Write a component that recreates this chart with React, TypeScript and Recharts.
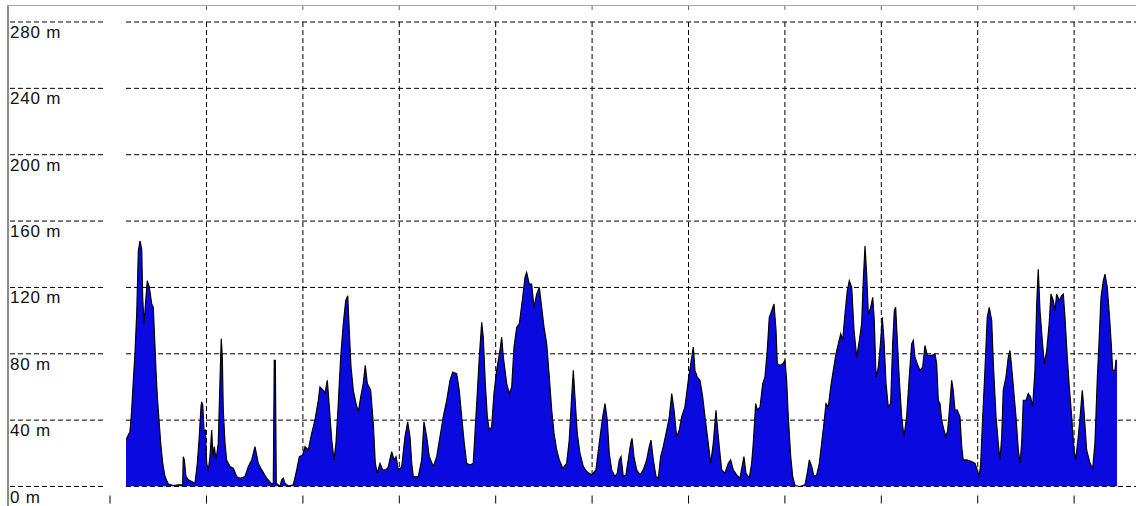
import React from 'react';
import { ComposedChart, Area, XAxis, YAxis, CartesianGrid } from 'recharts';

// distance (km) / elevation (m) pairs
const section1: [number, number][] = [
  [0.165, 28], [0.196, 32], [0.206, 33], [0.224, 46], [0.241, 64], [0.258, 80], [0.276, 104], [0.293, 142],
  [0.31, 148], [0.328, 143], [0.338, 114], [0.352, 98], [0.372, 114], [0.386, 124], [0.407, 120], [0.432, 110],
  [0.448, 108], [0.463, 88], [0.476, 70], [0.49, 54], [0.51, 38], [0.525, 26], [0.546, 14], [0.569, 6],
  [0.604, 1.5], [0.656, 0.5], [0.707, 1], [0.753, 1], [0.759, 18], [0.77, 16], [0.787, 6], [0.811, 4],
  [0.846, 3], [0.881, 2], [0.905, 14], [0.925, 30], [0.943, 48], [0.95, 51], [0.961, 49], [0.974, 34],
  [0.988, 34], [1.002, 14], [1.019, 10], [1.036, 18], [1.054, 34], [1.067, 18], [1.081, 24], [1.099, 16],
  [1.122, 26], [1.14, 64], [1.153, 89], [1.164, 78], [1.174, 46], [1.192, 26], [1.209, 16], [1.244, 12],
  [1.278, 11], [1.313, 6], [1.347, 5], [1.399, 6], [1.434, 12], [1.469, 16], [1.503, 24], [1.537, 14],
  [1.573, 10], [1.624, 5], [1.676, 1.5], [1.693, 2], [1.703, 76], [1.714, 76], [1.724, 2], [1.762, 0],
  [1.78, 4], [1.797, 5], [1.814, 2], [1.849, 0.3], [1.9, 1], [1.936, 10], [1.963, 18], [1.998, 19],
  [2.022, 24], [2.056, 22], [2.091, 32], [2.125, 40], [2.16, 52],
];

const section2: [number, number][] = [
  [2.177, 60], [2.212, 58], [2.229, 56], [2.253, 64], [2.274, 48], [2.299, 28], [2.323, 16], [2.343, 26],
  [2.367, 50], [2.392, 78], [2.419, 98], [2.444, 112], [2.465, 115], [2.481, 94], [2.499, 72], [2.523, 58],
  [2.551, 50], [2.575, 45], [2.6, 54], [2.626, 62], [2.647, 73], [2.668, 62], [2.703, 58], [2.73, 38],
  [2.751, 14], [2.772, 8], [2.8, 14], [2.828, 10], [2.862, 10], [2.886, 12], [2.921, 21], [2.945, 16],
  [2.966, 18], [2.99, 10], [3.025, 12], [3.059, 30], [3.087, 39], [3.111, 30], [3.129, 14], [3.145, 6],
  [3.197, 6], [3.232, 16], [3.256, 39], [3.284, 30], [3.311, 18], [3.353, 12], [3.388, 18], [3.422, 30],
  [3.456, 42], [3.492, 52], [3.526, 64], [3.554, 69], [3.595, 68], [3.622, 58], [3.647, 42], [3.674, 26],
  [3.699, 14], [3.733, 13], [3.767, 14], [3.803, 50], [3.83, 78], [3.855, 99], [3.871, 90], [3.892, 62],
  [3.913, 42], [3.933, 34], [3.958, 36], [3.982, 56], [4.01, 70], [4.044, 82], [4.062, 90], [4.079, 78],
  [4.114, 62], [4.141, 56], [4.166, 60], [4.19, 84], [4.218, 96], [4.245, 98],
];

const section3: [number, number][] = [
  [4.28, 114], [4.304, 126], [4.321, 129], [4.348, 122], [4.373, 122], [4.397, 108], [4.425, 116], [4.452, 120],
  [4.477, 108], [4.501, 96], [4.529, 86], [4.556, 66], [4.581, 46], [4.605, 32], [4.633, 22], [4.66, 16],
  [4.695, 11], [4.736, 14], [4.763, 28], [4.788, 54], [4.805, 70], [4.822, 54], [4.846, 32], [4.874, 20],
  [4.909, 12], [4.944, 9], [4.996, 7], [5.04, 10], [5.074, 26], [5.11, 42], [5.134, 50], [5.157, 40],
  [5.178, 20], [5.203, 10], [5.237, 6], [5.261, 8], [5.282, 16], [5.3, 18], [5.323, 6], [5.351, 7],
  [5.375, 16], [5.4, 26], [5.414, 29], [5.434, 18], [5.462, 10], [5.497, 7], [5.531, 10], [5.566, 16],
  [5.593, 24], [5.611, 28], [5.635, 16], [5.663, 6], [5.687, 5], [5.711, 18], [5.738, 24], [5.774, 34],
  [5.801, 42], [5.826, 56], [5.85, 46], [5.877, 30], [5.904, 34], [5.929, 42], [5.963, 48], [5.998, 64],
  [6.023, 74], [6.05, 84], [6.067, 70], [6.091, 66], [6.119, 64], [6.147, 54], [6.171, 42], [6.205, 26],
  [6.23, 14], [6.257, 26], [6.285, 46], [6.309, 30], [6.326, 20],
];

const section4: [number, number][] = [
  [6.344, 10], [6.378, 8], [6.413, 14], [6.437, 16], [6.464, 10], [6.5, 7], [6.534, 5], [6.562, 14],
  [6.575, 18], [6.596, 8], [6.631, 5], [6.655, 14], [6.672, 26], [6.697, 50], [6.714, 46], [6.742, 48],
  [6.77, 62], [6.793, 66], [6.817, 82], [6.838, 102], [6.863, 106], [6.887, 110], [6.908, 94], [6.921, 74],
  [6.949, 73], [6.977, 74], [7.001, 76], [7.018, 64], [7.035, 42], [7.06, 18], [7.081, 6], [7.105, 0.5],
  [7.156, 0], [7.208, 1], [7.232, 8], [7.253, 16], [7.278, 12], [7.302, 6], [7.33, 7], [7.357, 14],
  [7.381, 26], [7.405, 38], [7.426, 50], [7.45, 48], [7.475, 60], [7.502, 70], [7.53, 80], [7.554, 86],
  [7.579, 92], [7.599, 88], [7.623, 104], [7.647, 118], [7.668, 124], [7.693, 120], [7.717, 94], [7.745, 78],
  [7.772, 88], [7.796, 98], [7.813, 124], [7.831, 145], [7.848, 128], [7.865, 104], [7.89, 108], [7.911, 114],
  [7.927, 100], [7.945, 66], [7.969, 72], [7.994, 88], [8.01, 102], [8.028, 88], [8.049, 62], [8.072, 48],
  [8.097, 50], [8.118, 86], [8.135, 106], [8.149, 108], [8.166, 88], [8.187, 64], [8.211, 42], [8.235, 30],
  [8.263, 42], [8.29, 66], [8.315, 86], [8.332, 88], [8.349, 78], [8.373, 74], [8.401, 70],
];

const section5: [number, number][] = [
  [8.429, 72], [8.453, 85], [8.477, 79], [8.523, 79], [8.557, 80], [8.574, 74], [8.591, 52], [8.609, 50],
  [8.626, 40], [8.65, 34], [8.671, 30], [8.689, 34], [8.712, 50], [8.73, 64], [8.746, 58], [8.764, 46],
  [8.788, 46], [8.816, 42], [8.834, 24], [8.85, 16], [8.886, 16], [8.937, 15], [8.971, 14], [8.995, 10],
  [9.016, 6], [9.031, 14], [9.052, 42], [9.075, 70], [9.099, 102], [9.12, 108], [9.145, 100], [9.162, 74],
  [9.19, 42], [9.213, 26], [9.231, 16], [9.249, 30], [9.265, 58], [9.293, 66], [9.317, 78], [9.335, 82],
  [9.352, 72], [9.376, 56], [9.397, 42], [9.421, 22], [9.439, 14], [9.456, 26], [9.473, 52], [9.501, 52],
  [9.525, 56], [9.549, 54], [9.57, 48], [9.594, 70], [9.612, 110], [9.628, 131], [9.646, 106], [9.67, 88],
  [9.691, 74], [9.716, 82], [9.741, 98], [9.76, 116], [9.784, 112], [9.802, 106], [9.819, 116], [9.846, 112],
  [9.871, 115], [9.888, 116], [9.905, 102], [9.929, 78], [9.95, 60], [9.975, 42], [9.999, 22], [10.016, 16],
  [10.043, 30], [10.068, 46], [10.085, 58], [10.102, 46], [10.13, 22], [10.165, 14], [10.193, 11], [10.216, 26],
  [10.24, 64], [10.261, 90], [10.279, 114], [10.303, 124], [10.32, 128], [10.344, 120], [10.365, 104], [10.383, 88],
  [10.4, 70], [10.424, 70], [10.434, 76], [10.445, 76],
];

const gridKm = [1, 2, 3, 4, 5, 6, 7, 8, 9, 10];
const heightTicks = [0, 40, 80, 120, 160, 200, 240, 280];

const profile = [...section1, ...section2, ...section3, ...section4, ...section5].map(([km, elev]) => ({ km, elev }));

const kmDomain: [number, number] = [0.165, 10.642];

function HeightTick(props: any) {
  const { y, payload } = props;
  return (
    <g>
      <line x1={10} x2={104} y1={y} y2={y} stroke="#000" strokeDasharray="5 3" />
      <text
        x={10}
        y={y + 16}
        fontSize={17}
        letterSpacing={0.8}
        fill="#111"
        fontFamily="'Liberation Sans', Arial, sans-serif"
      >
        {`${payload.value} m`}
      </text>
      {payload.value === 0 && <line x1={110} x2={110} y1={y + 9} y2={y + 17} stroke="#000" />}
    </g>
  );
}

const noLabel = () => <g />;

// vertical grid only at the km ticks, placed by the x axis scale
const kmGridLines = (args: any) => {
  const scale = args?.xAxis?.scale;
  if (typeof scale === 'function') return gridKm.map((k) => scale(k));
  const { offset } = args;
  const [d0, d1] = kmDomain;
  return gridKm.map((k) => offset.left + ((k - d0) / (d1 - d0)) * offset.width);
};

export default function App() {
  return (
    <div style={{ position: 'fixed', left: 0, top: 0, width: 1136, height: 506, overflow: 'hidden', background: '#fff' }}>
      <div
        style={{
          position: 'absolute',
          left: 7,
          top: 5,
          width: 1129,
          height: 501,
          borderLeft: '2px solid #8c8c8c',
          borderTop: '1px solid #a8a8a8',
        }}
      />
      <div style={{ position: 'absolute', left: 0, top: 0 }}>
        <ComposedChart width={1136} height={520} data={profile} margin={{ top: 6, right: 0, bottom: 19.5, left: 0 }}>
          <XAxis
            xAxisId="top"
            orientation="top"
            type="number"
            dataKey="km"
            domain={kmDomain}
            allowDataOverflow
            ticks={gridKm}
            interval={0}
            height={16}
            tick={noLabel}
            axisLine={false}
            tickSize={16}
            tickLine={{ stroke: '#666', strokeDasharray: '4 100' }}
          />
          <XAxis
            type="number"
            dataKey="km"
            domain={kmDomain}
            allowDataOverflow
            ticks={gridKm}
            interval={0}
            height={14}
            tick={noLabel}
            axisLine={false}
            tickSize={17}
            tickLine={{ stroke: '#000', strokeDasharray: '8 100' }}
          />
          <YAxis
            type="number"
            domain={[0, 280]}
            allowDataOverflow
            ticks={heightTicks}
            interval={0}
            width={126}
            axisLine={false}
            tickLine={false}
            tick={(p: any) => <HeightTick {...p} />}
          />
          <Area
            type="linear"
            dataKey="elev"
            fill="#0a0ae0"
            fillOpacity={1}
            stroke="#000"
            strokeWidth={1.2}
            isAnimationActive={false}
          />
          <CartesianGrid stroke="#000" strokeDasharray="5 3" verticalCoordinatesGenerator={kmGridLines} />
        </ComposedChart>
      </div>
    </div>
  );
}
